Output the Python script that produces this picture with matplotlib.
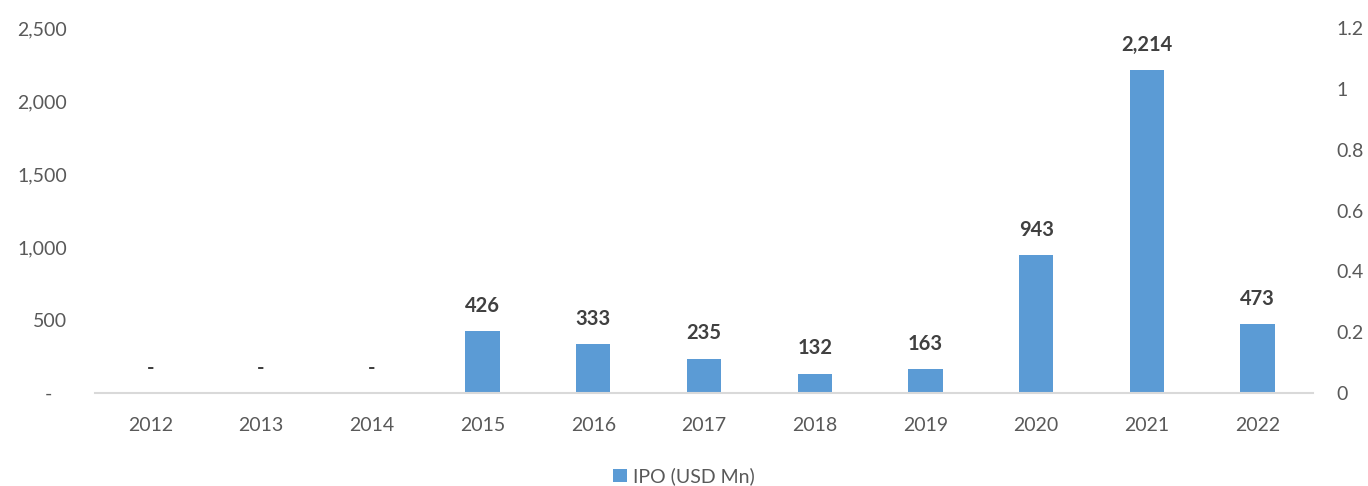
import matplotlib
matplotlib.use('Agg')
import matplotlib.pyplot as plt
from matplotlib.ticker import FuncFormatter

years = ['2012', '2013', '2014', '2015', '2016', '2017', '2018', '2019', '2020', '2021', '2022']
ipo = [0, 0, 0, 426, 333, 235, 132, 163, 943, 2214, 473]
left_ticks = [0, 500, 1000, 1500, 2000, 2500]
right_ticks = [0, 0.2, 0.4, 0.6, 0.8, 1.0, 1.2]

plt.rcParams['font.family'] = ['Lato', 'DejaVu Sans']
text_color = '#595959'
bar_color = '#5B9BD5'

fig = plt.figure(figsize=(13.68, 4.86), dpi=100)
ax = fig.add_axes([0.0694, 0.1914, 0.8904, 0.7506])

x = range(len(years))
bars = ax.bar(x, ipo, width=0.31, color=bar_color, label='IPO (USD Mn)', zorder=2)

for xi, v in zip(x, ipo):
    label = '-' if v == 0 else f'{v:,}'
    ax.annotate(label, (xi, v), xytext=(0, 11 if v else 11), textcoords='offset points',
                ha='center', va='bottom', fontsize=14.5, fontweight='bold', color='#404040')

ax.set_xlim(-0.5, len(years) - 0.5)
ax.set_ylim(0, 2500)
ax.set_xticks(list(x))
ax.set_xticklabels(years)
ax.set_yticks(left_ticks)
ax.yaxis.set_major_formatter(FuncFormatter(lambda v, p: '-   ' if v == 0 else f'{int(v):,}'))

for s in ['top', 'right', 'left']:
    ax.spines[s].set_visible(False)
ax.spines['bottom'].set_color('#D9D9D9')
ax.spines['bottom'].set_linewidth(1.5)
ax.tick_params(axis='both', length=0, labelsize=14, colors=text_color)
ax.tick_params(axis='x', pad=17)
ax.tick_params(axis='y', pad=20)

ax2 = ax.twinx()
ax2.set_ylim(0, 1.2)
ax2.set_yticks(right_ticks)
ax2.yaxis.set_major_formatter(FuncFormatter(lambda v, p: f'{v:g}'))
for s in ['top', 'right', 'left', 'bottom']:
    ax2.spines[s].set_visible(False)
ax2.tick_params(axis='y', length=0, labelsize=14, colors=text_color, pad=17)

leg = fig.legend(handles=[bars], loc='center', bbox_to_anchor=(0.5, 0.02), frameon=False,
                 fontsize=14, handlelength=0.7, handleheight=0.7, handletextpad=0.3)
for t in leg.get_texts():
    t.set_color(text_color)

fig.savefig('out.png', dpi=100)
